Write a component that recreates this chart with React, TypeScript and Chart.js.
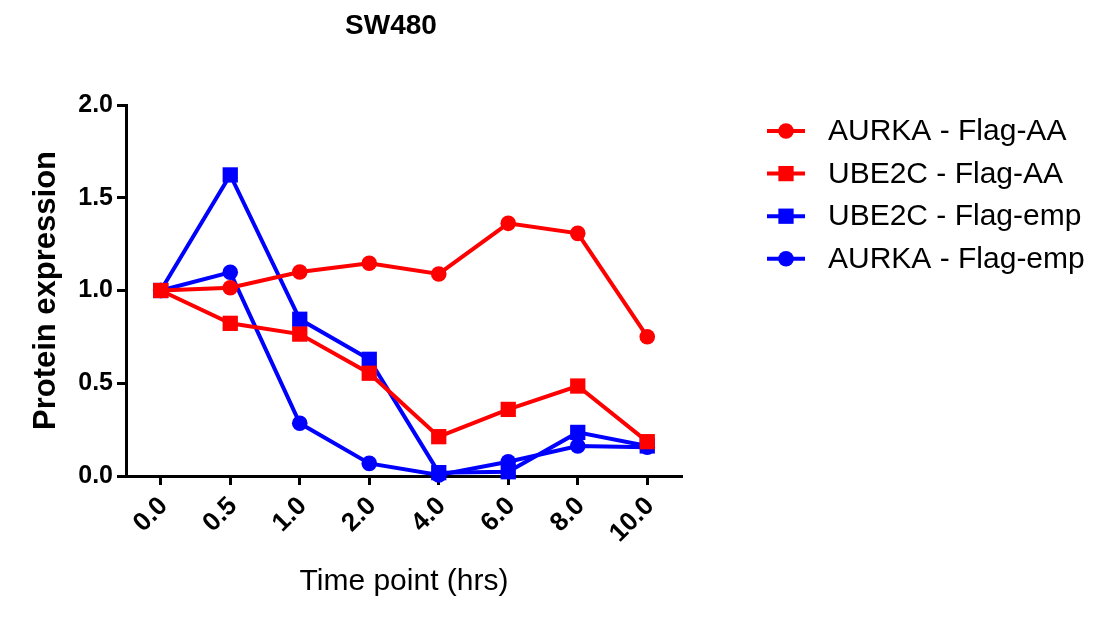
import React, { useEffect, useRef } from 'react';
import { Chart, registerables } from 'chart.js';

Chart.register(...registerables);

const timePoints = ['0.0', '0.5', '1.0', '2.0', '4.0', '6.0', '8.0', '10.0'];
const aurkaFlagAA = [1.0, 1.015, 1.1, 1.147, 1.089, 1.362, 1.308, 0.751];
const ube2cFlagAA = [1.0, 0.823, 0.765, 0.554, 0.212, 0.359, 0.485, 0.185];
const ube2cFlagEmp = [1.0, 1.623, 0.845, 0.629, 0.018, 0.023, 0.235, 0.162];
const aurkaFlagEmp = [1.0, 1.098, 0.284, 0.068, 0.005, 0.077, 0.162, 0.155];
const seriesNames = ['AURKA - Flag-AA', 'UBE2C - Flag-AA', 'UBE2C - Flag-emp', 'AURKA - Flag-emp'];
const seriesColors = ['#FF0000', '#FF0000', '#0000FF', '#0000FF'];
const seriesMarkers = ['circle', 'rect', 'rect', 'circle'];
const chartTitle = 'SW480';
const xTitle = 'Time point (hrs)';
const yTitle = 'Protein expression';

const FONT = '"Liberation Sans", Arial, Helvetica, sans-serif';

const markerRadius = (m: string) => (m === 'rect' ? 10.8 : 7.8);

const drawMarker = (ctx: CanvasRenderingContext2D, m: string, x: number, y: number, color: string) => {
  ctx.fillStyle = color;
  if (m === 'rect') {
    const s = markerRadius(m) * Math.SQRT1_2;
    ctx.fillRect(x - s, y - s, 2 * s, 2 * s);
  } else {
    ctx.beginPath();
    ctx.arc(x, y, markerRadius(m), 0, Math.PI * 2);
    ctx.fill();
  }
};

const titlePlugin = {
  id: 'customTitle',
  afterDraw(chart: any) {
    const ctx = chart.ctx;
    ctx.save();
    ctx.fillStyle = '#000';
    ctx.font = `bold 28px ${FONT}`;
    ctx.textAlign = 'center';
    ctx.textBaseline = 'middle';
    ctx.fillText(chartTitle, 391, 26);
    ctx.restore();
  },
};

const legendPlugin = {
  id: 'customLegend',
  afterDraw(chart: any) {
    const ctx = chart.ctx;
    ctx.save();
    chart.data.datasets.forEach((ds: any, i: number) => {
      const y = 131 + i * 42.6;
      ctx.strokeStyle = ds.borderColor;
      ctx.lineWidth = 4;
      ctx.beginPath();
      ctx.moveTo(767, y);
      ctx.lineTo(805, y);
      ctx.stroke();
      drawMarker(ctx, seriesMarkers[i], 786, y, ds.borderColor);
      ctx.fillStyle = '#000';
      ctx.font = `30px ${FONT}`;
      ctx.textAlign = 'left';
      ctx.textBaseline = 'middle';
      ctx.fillText(ds.label, 828, y + 1);
    });
    ctx.restore();
  },
};

export default function App() {
  const canvasRef = useRef<HTMLCanvasElement | null>(null);

  useEffect(() => {
    if (!canvasRef.current) return;
    const values = [aurkaFlagAA, ube2cFlagAA, ube2cFlagEmp, aurkaFlagEmp];
    const chart = new Chart(canvasRef.current, {
      type: 'line',
      data: {
        labels: timePoints,
        datasets: values.map((v, i) => ({
          label: seriesNames[i],
          data: v,
          borderColor: seriesColors[i],
          backgroundColor: seriesColors[i],
          pointBackgroundColor: seriesColors[i],
          pointBorderColor: seriesColors[i],
          pointBorderWidth: 0,
          pointStyle: seriesMarkers[i] as any,
          pointRadius: markerRadius(seriesMarkers[i]),
          pointHoverRadius: markerRadius(seriesMarkers[i]),
          borderWidth: 4,
          tension: 0,
          fill: false,
          clip: false as any,
        })),
      },
      options: {
        responsive: false,
        animation: false,
        devicePixelRatio: 1,
        layout: { padding: { left: 0, top: 105, right: 1103 - 682, bottom: 0 } },
        plugins: {
          legend: { display: false },
          title: { display: false },
          tooltip: { enabled: false },
        },
        scales: {
          x: {
            type: 'category',
            offset: true,
            afterFit: (scale: any) => {
              scale.height = 621 - 476;
            },
            grid: {
              display: true,
              drawOnChartArea: false,
              drawTicks: true,
              tickLength: 9,
              tickWidth: 3,
              tickColor: '#000',
            },
            border: { display: true, color: '#000', width: 3 },
            ticks: {
              color: '#000',
              font: { family: FONT, size: 26, weight: 'bold' },
              maxRotation: 45,
              minRotation: 45,
              autoSkip: false,
              padding: 6,
              labelOffset: 3,
            },
            title: {
              display: true,
              text: xTitle,
              color: '#000',
              font: { family: FONT, size: 30, weight: 'normal' },
              padding: { top: 0, bottom: 21 },
            },
          },
          y: {
            type: 'linear',
            min: 0,
            max: 2,
            afterFit: (scale: any) => {
              scale.width = 126;
            },
            grid: {
              display: true,
              drawOnChartArea: false,
              drawTicks: true,
              tickLength: 9,
              tickWidth: 3,
              tickColor: '#000',
            },
            border: { display: true, color: '#000', width: 3 },
            ticks: {
              stepSize: 0.5,
              color: '#000',
              font: { family: FONT, size: 25, weight: 'bold' },
              padding: 4,
              callback: (v: any) => Number(v).toFixed(1),
            },
            title: {
              display: true,
              text: yTitle,
              color: '#000',
              font: { family: FONT, size: 31, weight: 'bold' },
              padding: { top: 28, bottom: 0 },
            },
          },
        },
      },
      plugins: [titlePlugin, legendPlugin],
    });
    return () => chart.destroy();
  }, []);

  return (
    <div style={{ position: 'absolute', left: 0, top: 0, width: 1103, height: 621, background: '#fff' }}>
      <canvas ref={canvasRef} width={1103} height={621} />
    </div>
  );
}
